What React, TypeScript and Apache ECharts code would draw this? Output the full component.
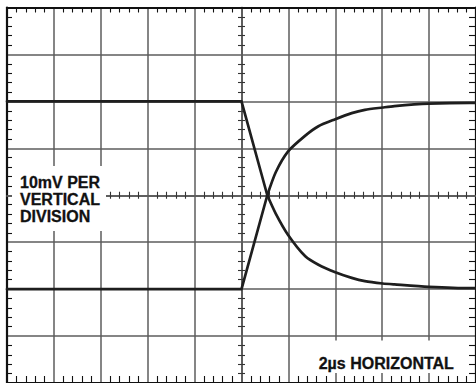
import React, { useEffect, useRef } from "react";
import * as echarts from "echarts";

// Time in microseconds (2 µs per division), voltage in millivolts (10 mV per division)
const timeUs = [-10, 0, 1.1, 1.46, 1.98, 2.72, 3.28, 4.0, 4.7, 5.26, 6.02, 6.52, 7.98, 9.74, 10];
const risingMv = [-20, -20, 0, 4.9, 9.3, 12.7, 14.7, 16.2, 17.5, 18.2, 18.7, 19.0, 19.5, 19.7, 19.7];
const fallingMv = [20, 20, 0, -3.9, -8.4, -13.0, -14.8, -16.4, -17.6, -18.3, -18.8, -19.0, -19.5, -19.8, -19.8];

const xRange = { min: -10, max: 10, interval: 2 };
const yRange = { min: -40, max: 40, interval: 10 };

const verticalLabel = ["10mV PER", "VERTICAL", "DIVISION"];
const horizontalLabel = "2\u00b5s HORIZONTAL";

const RAMP_END = 3; // ramp part: first three points (flat + straight edge)

export default function App() {
  const ref = useRef<HTMLDivElement>(null);

  useEffect(() => {
    if (!ref.current) return;
    const chart = echarts.init(ref.current, null, { renderer: "svg" });

    const gridRect = { left: 7, top: 7.5, width: 473.3, height: 378.4 };
    const gridColor = "#5c5c5c";
    const traceColor = "#1e1e1e";
    const font = 'bold 16px "Liberation Sans", Arial, Helvetica, sans-serif';

    const borderAxisX = (position: "top" | "bottom", tickLen: number, split: boolean) => ({
      type: "value",
      gridIndex: 0,
      position,
      ...xRange,
      axisLine: { show: true, onZero: false, lineStyle: { color: "#111", width: 2.2 } },
      axisTick: { show: false, inside: true },
      minorTick: { show: true, splitNumber: 5, length: tickLen, lineStyle: { color: "#111", width: 1.1 } },
      axisLabel: { show: false },
      splitLine: { show: split, lineStyle: { color: gridColor, width: 1.5 } },
    });
    const borderAxisY = (position: "left" | "right", tickLen: number, split: boolean) => ({
      type: "value",
      gridIndex: 0,
      position,
      ...yRange,
      axisLine: { show: true, onZero: false, lineStyle: { color: "#111", width: 2.2 } },
      axisTick: { show: false, inside: true },
      minorTick: { show: true, splitNumber: 5, length: tickLen, lineStyle: { color: "#111", width: 1.1 } },
      axisLabel: { show: false },
      splitLine: { show: split, lineStyle: { color: gridColor, width: 1.5 } },
    });
    const centerAxisX = (gridIndex: number, inside: boolean) => ({
      type: "value",
      gridIndex,
      position: "bottom",
      ...xRange,
      axisLine: { show: true, onZero: true, lineStyle: { color: gridColor, width: 1.5 } },
      axisTick: { show: false, inside },
      minorTick: { show: true, splitNumber: 5, length: 3.5, lineStyle: { color: "#333", width: 1.1 } },
      axisLabel: { show: false },
      splitLine: { show: false },
    });
    const centerAxisY = (gridIndex: number, inside: boolean) => ({
      type: "value",
      gridIndex,
      position: "left",
      ...yRange,
      axisLine: { show: true, onZero: true, lineStyle: { color: gridColor, width: 1.5 } },
      axisTick: { show: false, inside },
      minorTick: { show: true, splitNumber: 5, length: 3.5, lineStyle: { color: "#333", width: 1.1 } },
      axisLabel: { show: false },
      splitLine: { show: false },
    });

    const pairs = (ys: number[], from: number, to: number) =>
      timeUs.slice(from, to).map((t, i) => [t, ys[from + i]]);

    const traceStyle = { color: traceColor, width: 2.7, join: "round", cap: "round" };
    const mk = (name: string, data: number[][], smooth: boolean | number) => ({
      type: "line",
      name,
      xAxisIndex: 0,
      yAxisIndex: 0,
      data,
      smooth,
      showSymbol: false,
      symbol: "none",
      lineStyle: traceStyle,
      z: 5,
    });

    chart.setOption({
      animation: false,
      backgroundColor: "#ffffff",
      grid: [
        { ...gridRect, containLabel: false },
        { ...gridRect, containLabel: false },
        { ...gridRect, containLabel: false },
      ],
      xAxis: [
        borderAxisX("top", 5, true),
        borderAxisX("bottom", 7, false),
        centerAxisX(1, true),
        centerAxisX(2, false),
      ],
      yAxis: [
        borderAxisY("left", 5, true),
        borderAxisY("right", 7, false),
        centerAxisY(1, true),
        centerAxisY(2, false),
      ],
      series: [
        mk("rising-ramp", pairs(risingMv, 0, RAMP_END), false),
        mk("rising-settle", pairs(risingMv, RAMP_END - 1, timeUs.length), 0.25),
        mk("falling-ramp", pairs(fallingMv, 0, RAMP_END), false),
        mk("falling-settle", pairs(fallingMv, RAMP_END - 1, timeUs.length), 0.25),
      ],
      graphic: [
        {
          type: "rect",
          z: 100,
          shape: { x: 12, y: 166, width: 94, height: 65 },
          style: { fill: "#ffffff" },
        },
        {
          type: "text",
          z: 101,
          x: 20,
          y: 173.8,
          style: {
            text: verticalLabel.join("\n"),
            font,
            lineHeight: 17,
            fill: "#111111",
            stroke: "#111111",
            lineWidth: 0.3,
            textAlign: "left",
            textVerticalAlign: "top",
          },
        },
        {
          type: "rect",
          z: 100,
          shape: { x: 310, y: 340.5, width: 156, height: 32.5 },
          style: { fill: "#ffffff" },
        },
        {
          type: "text",
          z: 101,
          x: 318.7,
          y: 354.8,
          style: {
            text: horizontalLabel,
            font,
            lineHeight: 17,
            fill: "#111111",
            stroke: "#111111",
            lineWidth: 0.3,
            textAlign: "left",
            textVerticalAlign: "top",
          },
        },
      ],
    });

    return () => chart.dispose();
  }, []);

  return (
    <div
      ref={ref}
      style={{ position: "fixed", left: 0, top: 0, width: 476, height: 383 }}
    />
  );
}
